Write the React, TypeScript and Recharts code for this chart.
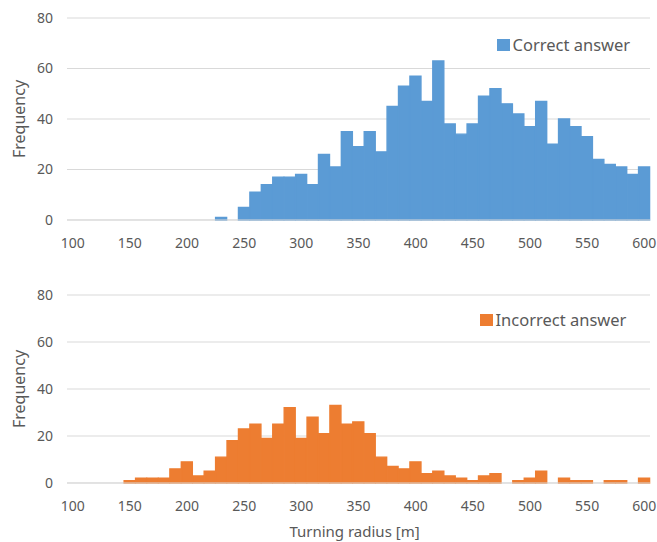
import React from 'react';
import { BarChart, Bar, XAxis, YAxis, CartesianGrid, Legend, Label } from 'recharts';

// 10 m bins of turning radius (lower edge of each bin)
const RADIUS_BINS = [
  '100', '110', '120', '130', '140', '150', '160', '170', '180', '190',
  '200', '210', '220', '230', '240', '250', '260', '270', '280', '290',
  '300', '310', '320', '330', '340', '350', '360', '370', '380', '390',
  '400', '410', '420', '430', '440', '450', '460', '470', '480', '490',
  '500', '510', '520', '530', '540', '550', '560', '570', '580', '590',
  '600',
];

const CORRECT_COUNTS = [
  0, 0, 0, 0, 0, 0, 0, 0, 0, 0,
  0, 0, 0, 1, 0, 5, 11, 14, 17, 17,
  18, 14, 26, 21, 35, 29, 35, 27, 45, 53,
  57, 47, 63, 38, 34, 38, 49, 52, 46, 42,
  37, 47, 30, 40, 37, 33, 24, 22, 21, 18,
  21,
];

const INCORRECT_COUNTS = [
  0, 0, 0, 0, 0, 1, 2, 2, 2, 6,
  9, 3, 5, 11, 18, 23, 25, 19, 25, 32,
  19, 28, 21, 33, 25, 26, 21, 11, 7, 6,
  9, 4, 5, 3, 2, 1, 3, 4, 0, 1,
  2, 5, 0, 2, 1, 1, 0, 1, 1, 0,
  2,
];

const FREQ_TICKS = [0, 20, 40, 60, 80];

const TEXT = '#595959';
const GRID = '#d9d9d9';
const FONT = '"Noto Sans", "Open Sans", sans-serif';
const WIDTH = 657;

const renderLegend = (props: any) => (
  <div style={{ display: 'flex', alignItems: 'center', height: 20, fontFamily: FONT }}>
    {(props.payload || []).map((entry: any) => (
      <span key={entry.value} style={{ display: 'flex', alignItems: 'center' }}>
        <span style={{ width: 12.5, height: 12.5, background: entry.color, marginRight: 3 }} />
        <span style={{ fontSize: 16.5, lineHeight: '20px', color: TEXT }}>{entry.value}</span>
      </span>
    ))}
  </div>
);

const FrequencyTitle = ({ viewBox }: any) => {
  const cx = 19;
  const cy = viewBox.y + viewBox.height / 2;
  return (
    <text
      x={cx}
      y={cy}
      transform={`rotate(-90 ${cx} ${cy})`}
      textAnchor="middle"
      dominantBaseline="central"
      fill={TEXT}
      fontSize={16}
      fontFamily={FONT}
    >
      Frequency
    </text>
  );
};

type PanelProps = {
  counts: number[];
  name: string;
  color: string;
  top: number;
  height: number;
  marginTop: number;
  xAxisHeight: number;
  legendTop: number;
  legendLeft: number;
  xTitle?: string;
};

const HistogramPanel: React.FC<PanelProps> = ({
  counts, name, color, top, height, marginTop, xAxisHeight, legendTop, legendLeft, xTitle,
}) => {
  const data = RADIUS_BINS.map((bin, i) => ({ bin, count: counts[i] }));
  return (
    <div style={{ position: 'absolute', left: 0, top }}>
      <BarChart
        width={WIDTH}
        height={height}
        data={data}
        margin={{ top: marginTop, right: 7, bottom: 0, left: 0 }}
        barCategoryGap={0}
        barGap={0}
      >
        <CartesianGrid horizontal vertical={false} stroke={GRID} strokeWidth={1} />
        <XAxis
          dataKey="bin"
          interval={4}
          height={xAxisHeight}
          tickLine={false}
          tickSize={0}
          tickMargin={18}
          axisLine={{ stroke: GRID }}
          tick={{ fill: TEXT, fontSize: 14, fontFamily: FONT }}
        >
          {xTitle && (
            <Label
              value={xTitle}
              position="insideBottom"
              offset={5}
              dx={-4}
              fill={TEXT}
              fontSize={15}
              fontFamily={FONT}
            />
          )}
        </XAxis>
        <YAxis
          domain={[0, 80]}
          ticks={FREQ_TICKS}
          width={67}
          axisLine={false}
          tickLine={false}
          tickSize={0}
          tickMargin={14}
          tick={{ fill: TEXT, fontSize: 14, fontFamily: FONT }}
        >
          <Label content={<FrequencyTitle />} />
        </YAxis>
        <Legend
          layout="horizontal"
          verticalAlign="middle"
          align="center"
          content={renderLegend}
          wrapperStyle={{ top: legendTop, left: legendLeft, width: 'auto' }}
        />
        {/* same-colour stroke closes the hairline seams between adjacent bins */}
        <Bar
          dataKey="count"
          name={name}
          fill={color}
          stroke={color}
          strokeWidth={1.4}
          isAnimationActive={false}
        />
      </BarChart>
    </div>
  );
};

export default function App() {
  return (
    <div style={{ position: 'absolute', left: 0, top: 0, width: WIDTH, height: 542, background: '#fff', fontFamily: FONT }}>
      <HistogramPanel
        counts={CORRECT_COUNTS}
        name="Correct answer"
        color="#5b9bd5"
        top={0}
        height={260}
        marginTop={18}
        xAxisHeight={40}
        legendTop={35}
        legendLeft={497}
      />
      <HistogramPanel
        counts={INCORRECT_COUNTS}
        name="Incorrect answer"
        color="#ed7d31"
        top={270}
        height={272}
        marginTop={25}
        xAxisHeight={59}
        legendTop={40}
        legendLeft={480}
        xTitle="Turning radius [m]"
      />
    </div>
  );
}
